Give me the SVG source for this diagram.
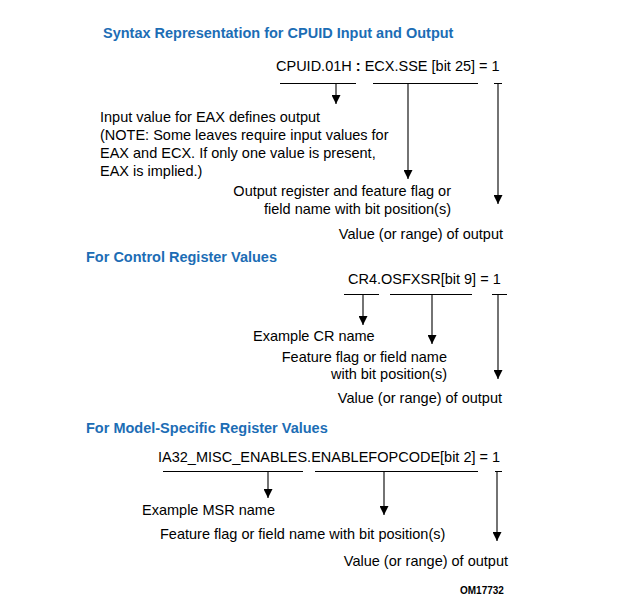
<svg xmlns="http://www.w3.org/2000/svg" width="617" height="607" viewBox="0 0 617 607">
<defs>
<marker id="ah" viewBox="0 0 10 10" refX="10" refY="5" markerWidth="9" markerHeight="9" markerUnits="userSpaceOnUse" orient="auto">
<path d="M0,0 L10,5 L0,10 Z" fill="#000"/>
</marker>
</defs>
<style>
text{font-family:"Liberation Sans",Arial,sans-serif;font-size:14.5px;fill:#000}
.h{font-weight:bold;fill:#1c6db5}
.b{font-weight:bold}
.r{text-anchor:end}
.id{font-weight:bold;font-size:10px}
.ln{stroke:#000;stroke-width:1.1;fill:none}
.ar{stroke:#000;stroke-width:1.1;fill:none;marker-end:url(#ah)}
</style>
<rect width="617" height="607" fill="#fff"/>

<g id="sec1">
<text class="h" x="103" y="38">Syntax Representation for CPUID Input and Output</text>
<text x="276" y="71">CPUID.01H <tspan class="b">:</tspan> ECX.SSE [bit 25] = 1</text>
<g id="n1-input">
<text x="100" y="122">Input value for EAX defines output</text>
<text x="100" y="140">(NOTE: Some leaves require input values for</text>
<text x="100" y="158">EAX and ECX. If only one value is present,</text>
<text x="100" y="176">EAX is implied.)</text>
</g>
<g id="n1-output">
<text class="r" x="451" y="196">Output register and feature flag or</text>
<text class="r" x="451" y="214">field name with bit position(s)</text>
</g>
<g id="n1-value"><text class="r" x="503" y="239">Value (or range) of output</text></g>
</g>

<g id="sec2">
<text class="h" x="86" y="262">For Control Register Values</text>
<text x="348" y="284">CR4.OSFXSR[bit 9] = 1</text>
<g id="n2-cr"><text x="253" y="341">Example CR name</text></g>
<g id="n2-flag">
<text class="r" x="447" y="362">Feature flag or field name</text>
<text class="r" x="447" y="379">with bit position(s)</text>
</g>
<g id="n2-value"><text class="r" x="502" y="403">Value (or range) of output</text></g>
</g>

<g id="sec3">
<text class="h" x="86" y="433">For Model-Specific Register Values</text>
<text x="158" y="462">IA32_MISC_ENABLES.ENABLEFOPCODE[bit 2] = 1</text>
<g id="n3-msr"><text x="142" y="515">Example MSR name</text></g>
<g id="n3-flag"><text x="160" y="539">Feature flag or field name with bit position(s)</text></g>
<g id="n3-value"><text class="r" x="508" y="566">Value (or range) of output</text></g>
<text class="id" x="460" y="594">OM17732</text>
</g>

<g id="connectors">
<path class="ln" d="M280,83.5H356 M373,83.5H478 M494,83.5H502"/>
<path class="ar" d="M336,83.5V104"/>
<path class="ar" d="M408,83.5V179"/>
<path class="ar" d="M498,83.5V204"/>

<path class="ln" d="M344,294.5H379 M390,294.5H472 M492,294.5H507"/>
<path class="ar" d="M363,294.5V325"/>
<path class="ar" d="M432,294.5V344"/>
<path class="ar" d="M498,294.5V379"/>

<path class="ln" d="M163,471.5H303 M315,471.5H478 M495,471.5H502"/>
<path class="ar" d="M268,471.5V498"/>
<path class="ar" d="M384,471.5V515"/>
<path class="ar" d="M497,471.5V541"/>
</g>
</svg>
